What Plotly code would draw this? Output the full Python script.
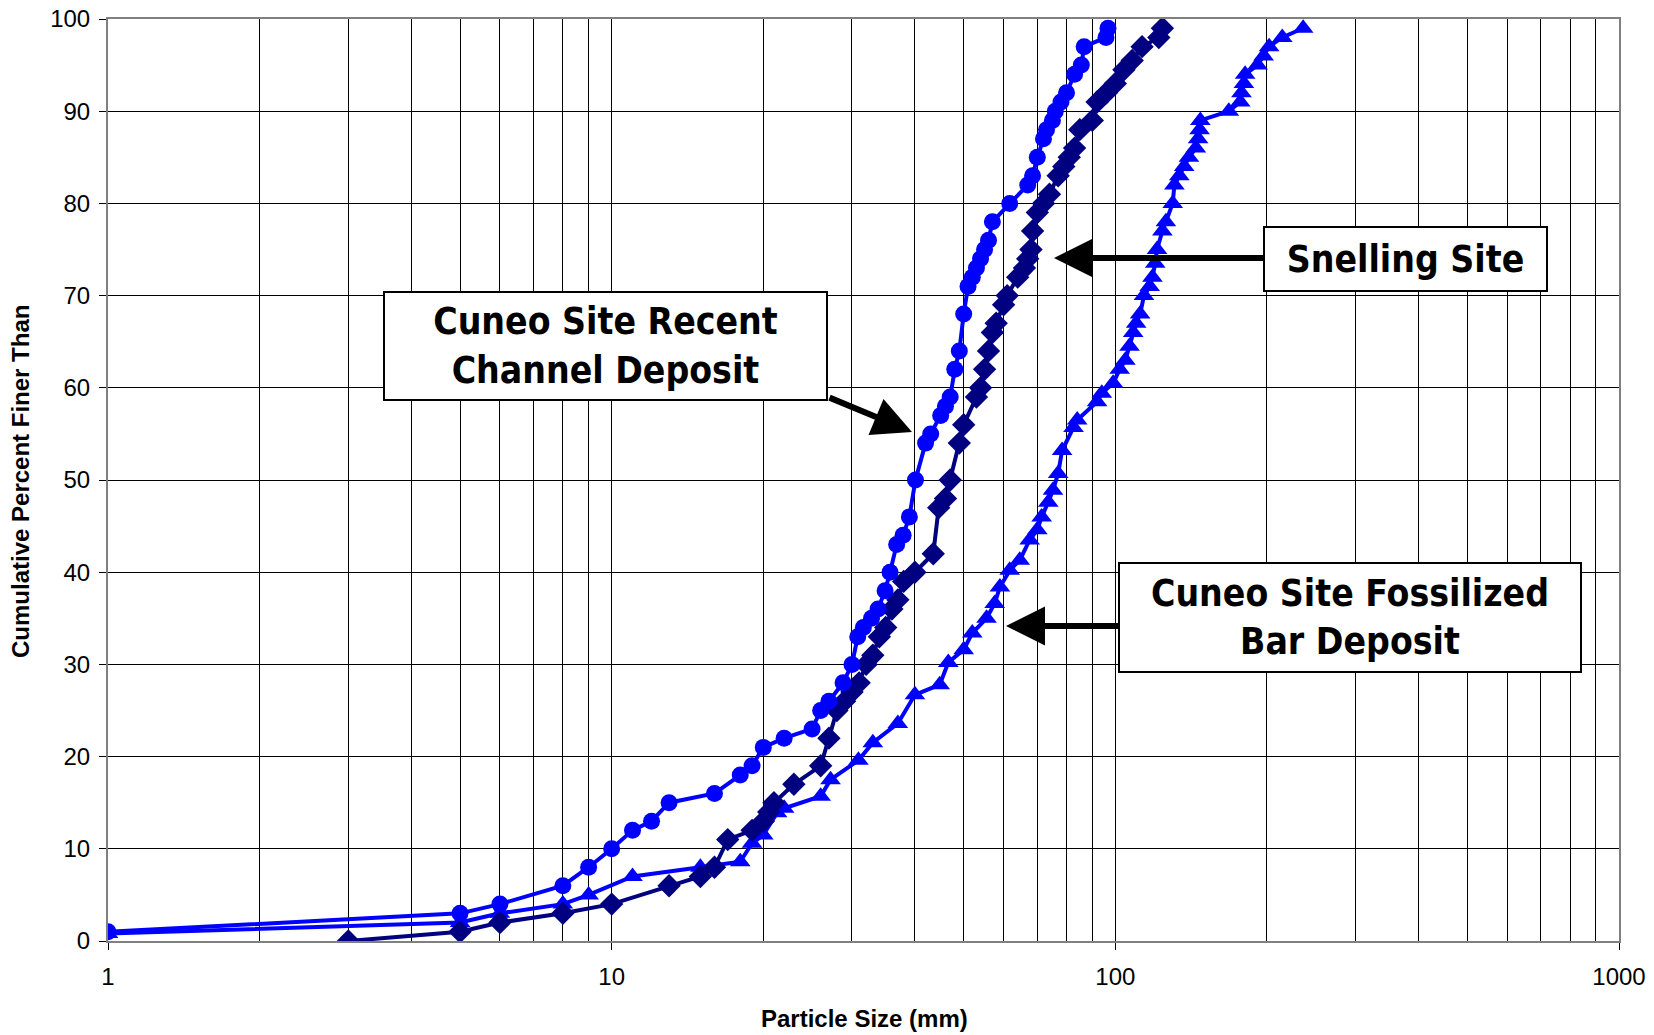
import plotly.graph_objects as go

# Cuneo Site Recent Channel Deposit (circles)
recent_size = [1, 5, 6, 8, 9, 10, 11, 12, 13, 16, 18, 19, 20, 22, 25, 26, 27, 28.8, 30, 30.8,
               31.6, 32.8, 33.8, 34.9, 35.7, 36.8, 37.9, 39, 40.1, 42, 43, 45, 46, 47, 48, 49, 50,
               51, 52, 53, 54, 55, 56, 57, 61.7, 67, 68.5, 70, 72, 73, 75, 76, 78, 80, 83, 85.6,
               86.7, 95.8, 96.7]
recent_pct = [1, 3, 4, 6, 8, 10, 12, 13, 15, 16, 18, 19, 21, 22, 23, 25, 26, 28, 30, 33,
              34, 35, 36, 38, 40, 43, 44, 46, 50, 54, 55, 57, 58, 59, 62, 64, 68,
              71, 72, 73, 74, 75, 76, 78, 80, 82, 83, 85, 87, 88, 89, 90, 91, 92, 94, 95,
              97, 98, 99]

# Snelling Site (diamonds)
snelling_size = [3, 5, 6, 8, 10, 13, 15, 16, 17, 19, 20, 20.5, 21, 23, 26, 27, 28, 29, 30, 31,
                 32, 33, 34, 35, 36, 37, 38, 40, 43.5, 44.6, 46, 47, 49, 50, 53, 54, 55, 56, 57,
                 58, 60, 61, 64, 66, 67, 68, 68.5, 70, 72, 74, 77, 79, 81, 83, 85, 90, 92, 96,
                 100, 104, 108, 113, 122, 124]
snelling_pct = [0, 1, 2, 3, 4, 6, 7, 8, 11, 12, 13, 14, 15, 17, 19, 22, 25, 26, 27, 28,
                30, 31, 33, 34, 36, 37, 39, 40, 42, 47, 48, 50, 54, 56, 59, 60, 62, 64, 66,
                67, 69, 70, 72, 73, 74, 75, 77, 79, 80, 81, 83, 84, 85, 86, 88, 89, 91, 92,
                93, 94.5, 95.5, 97, 98, 99]

# Cuneo Site Fossilized Bar Deposit (triangles)
fossil_size = [1, 5, 6, 8, 9, 11, 15, 18, 19, 20, 21.3, 22, 26, 27.2, 30.9, 33, 37, 40, 44.8,
               46.6, 50, 52, 55.5, 57.6, 59, 61.7, 64.6, 67.6, 70, 71.4, 73.6, 75.2, 77, 78.4,
               82.6, 84, 92, 94, 99, 102, 104.7, 106.7, 108.5, 110, 112, 114, 117, 118.5, 120,
               121, 124, 126, 130, 131, 134, 137, 140, 144.5, 146, 147, 147.5, 168, 177, 178,
               180, 181, 191.6, 197, 202, 214.5, 236]
fossil_pct = [0.8, 2, 3, 4, 5, 7, 8, 8.6, 10.6, 11.5, 13.9, 14.4, 15.7, 17.5, 19.6, 21.5, 23.6,
              26.7, 27.8, 30.2, 31.6, 33.4, 35, 36.6, 38.4, 40.2, 41.3, 43.5, 44.6, 46, 47.6,
              48.9, 50.7, 53.2, 55.7, 56.5, 58.5, 59.4, 60.5, 62, 63, 64.5, 66, 67, 68, 70, 71,
              72, 73.5, 75, 77, 78, 80, 82, 83, 84, 85, 86, 87, 88, 89, 90, 91, 92, 93, 94, 95,
              96, 97, 98, 99]

x_tick_vals = [1, 10, 100, 1000]
x_tick_text = ["1", "10", "100", "1000"]
y_tick_vals = [0, 10, 20, 30, 40, 50, 60, 70, 80, 90, 100]
x_title = "Particle Size (mm)"
y_title = "Cumulative Percent Finer Than"

fig = go.Figure()
fig.add_trace(go.Scatter(x=fossil_size, y=fossil_pct, mode="lines+markers",
                         name="Cuneo Site Fossilized Bar Deposit",
                         line=dict(color="#0000FF", width=4),
                         marker=dict(symbol="triangle-up", size=18, color="#0000FF")))
fig.add_trace(go.Scatter(x=snelling_size, y=snelling_pct, mode="lines+markers",
                         name="Snelling Site",
                         line=dict(color="#000080", width=4),
                         marker=dict(symbol="diamond", size=18, color="#000080")))
fig.add_trace(go.Scatter(x=recent_size, y=recent_pct, mode="lines+markers",
                         name="Cuneo Site Recent Channel Deposit",
                         line=dict(color="#0000FF", width=4),
                         marker=dict(symbol="circle", size=17, color="#0000FF")))

# the page body margin is removed (see post_script), so the figure fills the window
W, H = 1654, 1035
L, T = 108, 19
R = W - 1619
B = H - 941
pw, ph = W - L - R, H - T - B


def px(xw):
    return (xw - L) / pw


def py(yw):
    return (H - B - yw) / ph


box_font = dict(family="DejaVu Sans Condensed, DejaVu Sans", size=37, color="black")
title_font = dict(family="Liberation Sans, Arial", size=24, color="black")
annotations = []
# axis titles
annotations.append(dict(x=px(864), y=py(1018), xref="paper", yref="paper",
                        text="<b>" + x_title + "</b>", showarrow=False,
                        xanchor="center", yanchor="middle", font=title_font))
annotations.append(dict(x=px(21), y=py(482), xref="paper", yref="paper",
                        text="<b>" + y_title + "</b>", showarrow=False, textangle=-90,
                        xanchor="center", yanchor="middle", font=title_font))
# arrows (window coordinates of tip and tail)
for tip, tail in [((912, 432), (828, 397)), ((1054, 258), (1277, 258)), ((1006, 626), (1166, 626))]:
    annotations.append(dict(x=px(tip[0]), y=py(tip[1]), xref="paper", yref="paper", text="",
                            showarrow=True, arrowhead=2, arrowsize=1.3, arrowwidth=6,
                            arrowcolor="black", ax=tail[0] - tip[0], ay=tail[1] - tip[1],
                            standoff=0, startstandoff=0))
# boxes
for cx, cy, w, h, txt in [(605.5, 346, 441, 106, "<b>Cuneo Site Recent<br>Channel Deposit</b>"),
                          (1405.5, 259, 281, 62, "<b>Snelling Site</b>"),
                          (1350, 617.5, 460, 107, "<b>Cuneo Site Fossilized<br>Bar Deposit</b>")]:
    annotations.append(dict(x=px(cx), y=py(cy), xref="paper", yref="paper", text=txt,
                            showarrow=False, xanchor="center", yanchor="middle",
                            width=w, height=h, bgcolor="white", bordercolor="black",
                            borderwidth=2, borderpad=0, font=box_font, align="center"))

fig.update_layout(
    width=W, height=H,
    margin=dict(l=L, r=R, t=T, b=B, autoexpand=False),
    paper_bgcolor="white", plot_bgcolor="white",
    showlegend=False,
    annotations=annotations,
    font=dict(family="Liberation Sans, Arial", color="black"),
)
fig.update_xaxes(
    type="log", range=[0, 3], automargin=False,
    tickvals=x_tick_vals, ticktext=x_tick_text,
    tickfont=dict(size=24), ticks="outside", ticklen=7, tickcolor="black",
    ticklabelstandoff=6, ticklabeloverflow="allow",
    showgrid=True, gridcolor="black", gridwidth=1,
    minor=dict(dtick="D1", showgrid=True, gridcolor="black", gridwidth=1, ticks=""),
    showline=True, linecolor="#808080", linewidth=2, mirror=True,
    zeroline=False,
)
fig.update_yaxes(
    range=[0, 100], tickvals=y_tick_vals, automargin=False,
    tickfont=dict(size=24), ticks="outside", ticklen=7, tickcolor="black",
    ticklabelstandoff=4, ticklabeloverflow="allow",
    showgrid=True, gridcolor="black", gridwidth=1,
    showline=True, linecolor="#808080", linewidth=2, mirror=True,
    zeroline=False,
)

fig.write_html("out.html", config={"displayModeBar": False},
               post_script="document.body.style.margin='0';document.body.style.overflow='hidden';")
